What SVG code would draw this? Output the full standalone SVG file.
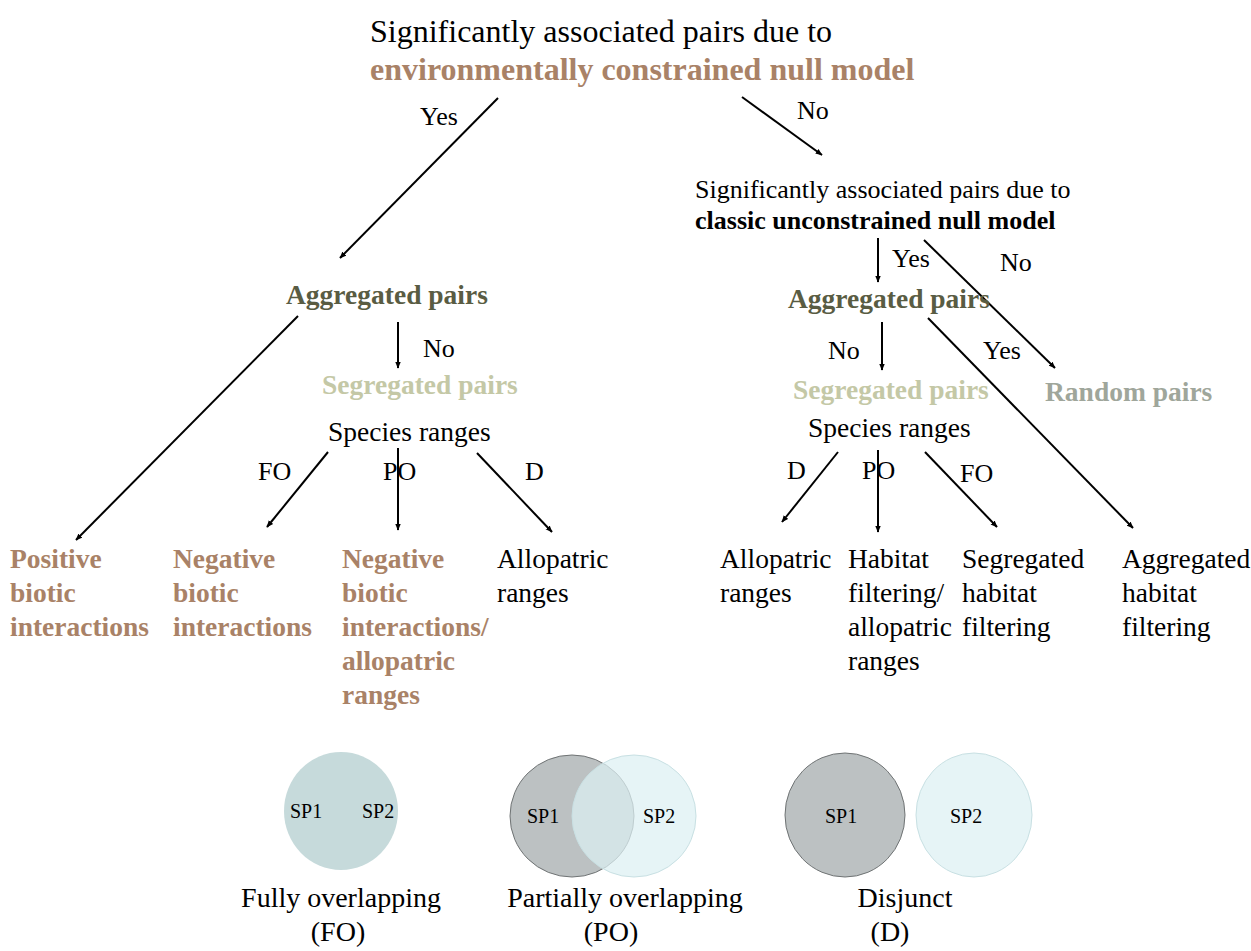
<svg xmlns="http://www.w3.org/2000/svg" width="1251" height="951" viewBox="0 0 1251 951" font-family="Liberation Serif, DejaVu Serif, serif">
  <defs>
    <marker id="arrow" viewBox="0 0 10 10" refX="9" refY="5" markerWidth="7" markerHeight="7" orient="auto-start-reverse" markerUnits="userSpaceOnUse">
      <path d="M0,1 L10,5 L0,9 z" fill="#000"/>
    </marker>
    <style>
      .q { font-size: 32px; }
      .q2 { font-size: 26px; }
      .n { font-size: 27.5px; }
      .b { font-weight: bold; }
      .tan { fill: #a98267; }
      .agg { fill: #595c43; }
      .seg { fill: #c4c8a6; }
      .rnd { fill: #9fa69b; }
      .lbl { font-size: 26px; }
      .leaf { font-size: 27.5px; }
      .sp { font-size: 20px; }
      .cap { font-size: 28px; text-anchor: middle; }
      .conn line { stroke: #000; stroke-width: 2; marker-end: url(#arrow); }
      .c-full { fill: #c6dadb; }
      .c-dark { fill: #bcc1c2; stroke: #6f7374; stroke-width: 1; }
      .c-light { fill: #dcf0f3; fill-opacity: 0.72; stroke: #c8e0e3; stroke-width: 1; }
    </style>
  </defs>

  <rect width="1251" height="951" fill="#fff"/>

  <!-- connectors -->
  <g id="connectors" class="conn">
    <line x1="498" y1="98" x2="340" y2="258"/>
    <line x1="742" y1="97" x2="822" y2="155"/>
    <line x1="298" y1="316" x2="76" y2="540"/>
    <line x1="398" y1="322" x2="398" y2="368"/>
    <line x1="328" y1="452" x2="267" y2="527"/>
    <line x1="398" y1="448" x2="398" y2="530"/>
    <line x1="477" y1="453" x2="552" y2="532"/>
    <line x1="878" y1="238" x2="878" y2="282"/>
    <line x1="924" y1="240" x2="1055" y2="368"/>
    <line x1="882" y1="322" x2="882" y2="370"/>
    <line x1="928" y1="318" x2="1133" y2="528"/>
    <line x1="838" y1="452" x2="782" y2="522"/>
    <line x1="878" y1="450" x2="878" y2="532"/>
    <line x1="925" y1="452" x2="997" y2="527"/>
  </g>

  <!-- connector labels -->
  <g id="edge-labels" class="lbl">
    <text x="420" y="125">Yes</text>
    <text x="797" y="119">No</text>
    <text x="423" y="357">No</text>
    <text x="258" y="480">FO</text>
    <text x="383" y="480">PO</text>
    <text x="525" y="480">D</text>
    <text x="892" y="267">Yes</text>
    <text x="1000" y="271">No</text>
    <text x="828" y="359">No</text>
    <text x="983" y="359">Yes</text>
    <text x="787" y="479">D</text>
    <text x="862" y="479">PO</text>
    <text x="960" y="482">FO</text>
  </g>

  <g id="q-env">
    <text class="q" x="370" y="42">Significantly associated pairs due to</text>
    <text class="q b tan" x="370" y="80">environmentally constrained null model</text>
  </g>

  <g id="q-classic">
    <text class="q2" x="695" y="198">Significantly associated pairs due to</text>
    <text class="q2 b" x="695" y="229">classic unconstrained null model</text>
  </g>

  <g id="left-aggregated"><text class="n b agg" x="286" y="304">Aggregated pairs</text></g>
  <g id="left-segregated"><text class="n b seg" x="322" y="394">Segregated pairs</text></g>
  <g id="left-ranges"><text class="n" x="328" y="441">Species ranges</text></g>

  <g id="right-aggregated"><text class="n b agg" x="788" y="308">Aggregated pairs</text></g>
  <g id="right-segregated"><text class="n b seg" x="793" y="399">Segregated pairs</text></g>
  <g id="right-random"><text class="n b rnd" x="1045" y="401">Random pairs</text></g>
  <g id="right-ranges"><text class="n" x="808" y="437">Species ranges</text></g>

  <!-- outcomes, left branch -->
  <g id="leaf-positive" class="leaf b tan">
    <text x="10" y="568">Positive</text>
    <text x="10" y="602">biotic</text>
    <text x="10" y="636">interactions</text>
  </g>
  <g id="leaf-negative" class="leaf b tan">
    <text x="173" y="568">Negative</text>
    <text x="173" y="602">biotic</text>
    <text x="173" y="636">interactions</text>
  </g>
  <g id="leaf-negative-allopatric" class="leaf b tan">
    <text x="342" y="568">Negative</text>
    <text x="342" y="602">biotic</text>
    <text x="342" y="636">interactions/</text>
    <text x="342" y="670">allopatric</text>
    <text x="342" y="704">ranges</text>
  </g>
  <g id="leaf-allopatric-left" class="leaf">
    <text x="497" y="568">Allopatric</text>
    <text x="497" y="602">ranges</text>
  </g>

  <!-- outcomes, right branch -->
  <g id="leaf-allopatric-right" class="leaf">
    <text x="720" y="568">Allopatric</text>
    <text x="720" y="602">ranges</text>
  </g>
  <g id="leaf-habitat-allopatric" class="leaf">
    <text x="848" y="568">Habitat</text>
    <text x="848" y="602">filtering/</text>
    <text x="848" y="636">allopatric</text>
    <text x="848" y="670">ranges</text>
  </g>
  <g id="leaf-seg-habitat" class="leaf">
    <text x="962" y="568">Segregated</text>
    <text x="962" y="602">habitat</text>
    <text x="962" y="636">filtering</text>
  </g>
  <g id="leaf-agg-habitat" class="leaf">
    <text x="1122" y="568">Aggregated</text>
    <text x="1122" y="602">habitat</text>
    <text x="1122" y="636">filtering</text>
  </g>

  <!-- range overlap legend -->
  <g id="legend-fo">
    <ellipse class="c-full" cx="341" cy="811" rx="57" ry="59"/>
    <text class="sp" x="290" y="818">SP1</text>
    <text class="sp" x="362" y="818">SP2</text>
    <text class="cap" x="341" y="907">Fully overlapping</text>
    <text class="cap" x="338" y="941">(FO)</text>
  </g>
  <g id="legend-po">
    <ellipse class="c-dark" cx="572" cy="816" rx="62" ry="61"/>
    <ellipse class="c-light" cx="634" cy="816" rx="62" ry="61"/>
    <text class="sp" x="527" y="823">SP1</text>
    <text class="sp" x="643" y="823">SP2</text>
    <text class="cap" x="625" y="907">Partially overlapping</text>
    <text class="cap" x="611" y="941">(PO)</text>
  </g>
  <g id="legend-d">
    <ellipse class="c-dark" cx="845" cy="815" rx="60" ry="62"/>
    <ellipse class="c-light" cx="974" cy="815" rx="58" ry="62"/>
    <text class="sp" x="825" y="823">SP1</text>
    <text class="sp" x="950" y="823">SP2</text>
    <text class="cap" x="905" y="907">Disjunct</text>
    <text class="cap" x="890" y="941">(D)</text>
  </g>
</svg>
